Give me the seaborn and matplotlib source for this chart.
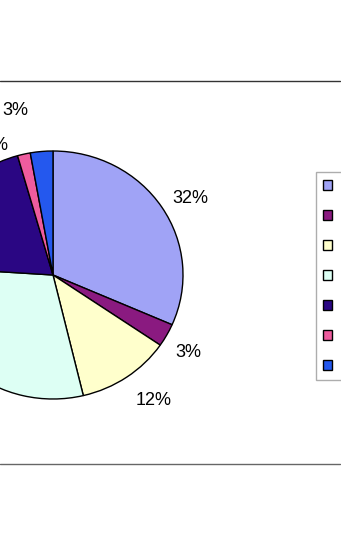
import numpy as np
import matplotlib
matplotlib.use("Agg")
import matplotlib.pyplot as plt
from matplotlib.patches import Patch, Rectangle
from matplotlib.lines import Line2D
import seaborn as sns

# ---- data ----
categories = ["Category 1", "Category 2", "Category 3", "Category 4",
              "Category 5", "Category 6", "Category 7"]
values = [31.6, 3.0, 11.7, 29.8, 19.6, 1.6, 2.8]
colors = ["#A0A3F6", "#8A1A80", "#FFFFCC", "#DDFFF4", "#2A0683", "#EE5C9E", "#2458EE"]

# label placement (angle in degrees, distance in pixels); None = default
label_pos = [(29.1, 157), (-29.6, 156), (-51.4, 161), None, None, (113.9, 142), (102.8, 169)]

sns.set_style("white")
plt.rcParams["font.family"] = ["Liberation Sans", "DejaVu Sans"]

W, H = 350, 546
fig = plt.figure(figsize=(W / 100, H / 100), dpi=100)
ax = fig.add_axes([0, 0, 1, 1])

cx, cy = 53, 275  # pie centre in pixels (from top-left)
sx, sy = 130, 124  # pixels per radius unit

wedges, texts, autotexts = ax.pie(
    values, colors=colors, startangle=90, counterclock=False,
    wedgeprops=dict(edgecolor="black", linewidth=1.0),
    autopct="%.0f%%", pctdistance=1.24,
    textprops=dict(fontsize=13, color="black"))

for t, p in zip(autotexts, label_pos):
    if p is not None:
        a = np.deg2rad(p[0])
        t.set_position((p[1] * np.cos(a) / sx, p[1] * np.sin(a) / sy))

ax.set_aspect("auto")
ax.set_xlim(-cx / sx, (W - cx) / sx)
ax.set_ylim(-(H - cy) / sy, cy / sy)
ax.axis("off")

# chart area border lines
fig.add_artist(Line2D([0, 340 / W], [1 - 81 / H] * 2, transform=fig.transFigure,
                      color="#333333", linewidth=1.0))
fig.add_artist(Line2D([0, 340 / W], [1 - 464 / H] * 2, transform=fig.transFigure,
                      color="#666666", linewidth=1.0))

handles = [Patch(facecolor=c, edgecolor="black", linewidth=1.0) for c in colors]
leg = fig.legend(handles, categories, loc="upper left",
                 bbox_to_anchor=(316 / W, 1 - 172 / H),
                 fontsize=10, frameon=True, fancybox=False,
                 handlelength=0.65, handleheight=0.65, handletextpad=0.8,
                 labelspacing=1.15, borderpad=0.5, borderaxespad=0)
leg.get_frame().set_edgecolor("#999999")
leg.get_frame().set_linewidth(1.0)

# cropped right margin
fig.add_artist(Rectangle((341 / W, 0), 1, 1, transform=fig.transFigure,
                         facecolor="white", edgecolor="none", zorder=20))

fig.savefig("out.png", dpi=100)
